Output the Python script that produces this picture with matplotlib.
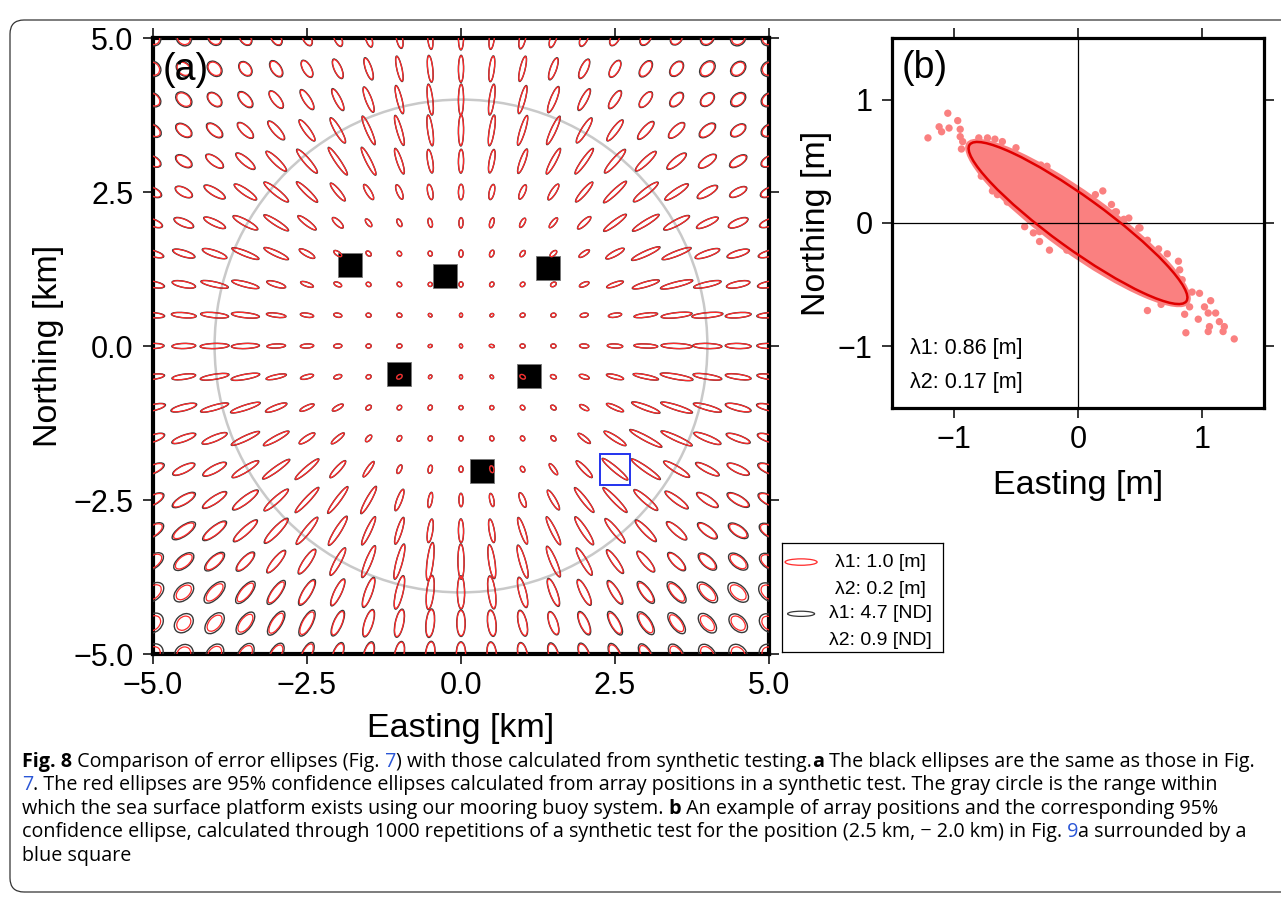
import numpy as np
import matplotlib
matplotlib.use("Agg")
import matplotlib.pyplot as plt
from matplotlib.patches import Ellipse, Rectangle, Circle, FancyBboxPatch
from matplotlib.collections import PatchCollection

plt.rcParams['font.family'] = ['Liberation Sans', 'DejaVu Sans']

W, H = 1281, 900

# ---------------- data: panel (a) ----------------
grid_km = [-5.0, -4.5, -4.0, -3.5, -3.0, -2.5, -2.0, -1.5, -1.0, -0.5, 0.0,
           0.5, 1.0, 1.5, 2.0, 2.5, 3.0, 3.5, 4.0, 4.5, 5.0]
rows_km = grid_km[::-1]   # table rows go from north (5.0) to south (-5.0)

# transponder positions [km]
transponder_x = [-1.80, -0.26, 1.41, -1.01, 1.10, 0.34]
transponder_y = [1.31, 1.14, 1.27, -0.45, -0.49, -2.03]

# red (synthetic test) ellipse axes, 32 units = 1 m
RED_MAJOR = [
    [14, 14, 14, 15, 15, 16, 17, 18, 20, 22, 23, 22, 21, 19, 17, 16, 15, 14, 14, 14, 14],
    [14, 15, 15, 15, 17, 18, 20, 22, 25, 26, 26, 25, 25, 22, 20, 18, 17, 16, 16, 15, 14],
    [15, 16, 16, 18, 20, 22, 23, 26, 28, 30, 30, 30, 28, 27, 23, 20, 18, 16, 15, 15, 15],
    [16, 17, 18, 20, 23, 25, 28, 30, 30, 30, 30, 30, 30, 30, 28, 25, 22, 20, 18, 16, 15],
    [16, 17, 20, 23, 27, 30, 32, 30, 26, 23, 23, 23, 25, 28, 30, 30, 27, 23, 20, 18, 16],
    [17, 18, 23, 26, 30, 28, 22, 17, 15, 15, 15, 15, 15, 18, 25, 30, 30, 27, 22, 18, 17],
    [19, 20, 23, 27, 28, 22, 14, 9, 8, 9, 10, 10, 10, 12, 17, 27, 30, 28, 23, 20, 19],
    [21, 22, 25, 28, 26, 17, 9, 6, 5, 5, 7, 7, 7, 8, 12, 20, 30, 30, 25, 22, 21],
    [22, 23, 27, 27, 19, 13, 8, 5, 5, 4, 5, 5, 5, 6, 10, 17, 27, 32, 27, 23, 22],
    [22, 24, 27, 27, 19, 13, 8, 5, 5, 4, 4, 4, 5, 5, 8, 13, 23, 30, 30, 25, 23],
    [21, 23, 28, 27, 18, 13, 8, 5, 5, 4, 4, 5, 5, 5, 9, 15, 23, 30, 28, 25, 23],
    [22, 23, 28, 28, 20, 13, 8, 5, 6, 4, 4, 4, 6, 6, 10, 17, 25, 32, 28, 25, 23],
    [24, 25, 28, 30, 22, 15, 12, 6, 5, 5, 4, 4, 5, 6, 10, 18, 29, 32, 28, 25, 24],
    [23, 24, 26, 30, 28, 18, 16, 8, 6, 5, 5, 5, 5, 6, 15, 25, 35, 33, 28, 24, 23],
    [22, 23, 25, 30, 32, 30, 22, 18, 9, 8, 6, 7, 6, 13, 22, 32, 34, 29, 25, 23, 22],
    [22, 24, 27, 30, 31, 33, 32, 30, 22, 15, 13, 13, 15, 22, 30, 33, 30, 27, 24, 23, 22],
    [21, 24, 27, 30, 32, 33, 33, 30, 27, 23, 23, 23, 27, 30, 32, 30, 28, 25, 22, 20, 19],
    [20, 20, 22, 23, 27, 28, 30, 33, 35, 37, 34, 33, 33, 32, 30, 27, 25, 22, 20, 19, 18],
    [19, 18, 22, 23, 25, 27, 28, 30, 33, 33, 32, 32, 30, 28, 27, 25, 23, 22, 21, 19, 18],
    [17, 16, 19, 21, 23, 25, 25, 27, 27, 27, 25, 25, 25, 23, 23, 23, 22, 20, 18, 17, 16],
    [16, 15, 17, 19, 20, 22, 22, 23, 24, 24, 23, 23, 22, 21, 21, 20, 19, 18, 17, 16, 15],
]
RED_MINOR = [
    [12, 12, 11, 10, 9, 8, 7, 6, 6, 5, 5, 5, 6, 6, 7, 8, 9, 10, 11, 12, 12],
    [12, 11, 11, 10, 9, 8, 7, 6, 5, 5, 5, 5, 5, 6, 7, 8, 9, 10, 11, 11, 12],
    [11, 11, 10, 9, 8, 7, 6, 6, 5, 5, 5, 5, 5, 6, 6, 7, 8, 9, 10, 10, 11],
    [10, 10, 9, 8, 7, 6, 6, 5, 5, 5, 5, 5, 5, 5, 6, 6, 7, 8, 9, 9, 10],
    [9, 9, 8, 7, 6, 6, 5, 5, 5, 5, 5, 5, 5, 5, 5, 6, 6, 7, 8, 8, 9],
    [8, 8, 7, 6, 6, 5, 5, 5, 5, 5, 5, 5, 5, 5, 5, 5, 6, 6, 7, 7, 8],
    [7, 7, 6, 6, 5, 5, 5, 4, 4, 4, 4, 4, 4, 4, 5, 5, 5, 6, 6, 7, 7],
    [6, 6, 6, 5, 5, 5, 4, 4, 4, 4, 4, 4, 4, 4, 4, 5, 5, 5, 6, 6, 6],
    [6, 6, 5, 5, 5, 4, 4, 4, 4, 4, 4, 4, 4, 4, 4, 4, 5, 5, 5, 6, 6],
    [5, 5, 5, 5, 4, 4, 4, 4, 4, 3, 3, 3, 4, 4, 4, 4, 4, 5, 5, 5, 5],
    [5, 5, 5, 5, 4, 4, 4, 4, 4, 3, 3, 3, 4, 4, 4, 4, 4, 5, 5, 5, 5],
    [5, 5, 5, 5, 4, 4, 4, 4, 4, 3, 3, 3, 4, 4, 4, 4, 4, 5, 5, 5, 5],
    [6, 6, 5, 5, 5, 4, 4, 4, 4, 4, 4, 4, 4, 4, 4, 4, 5, 5, 5, 6, 6],
    [7, 6, 6, 5, 5, 5, 4, 4, 4, 4, 4, 4, 4, 4, 4, 5, 5, 5, 6, 6, 7],
    [8, 7, 7, 6, 5, 5, 5, 4, 4, 4, 4, 4, 4, 4, 5, 5, 5, 6, 6, 7, 8],
    [9, 8, 7, 7, 6, 5, 5, 5, 5, 4, 4, 4, 5, 5, 5, 5, 6, 6, 7, 8, 9],
    [10, 9, 8, 7, 7, 6, 6, 5, 5, 5, 5, 5, 5, 5, 6, 6, 6, 7, 8, 9, 10],
    [11, 10, 9, 8, 7, 7, 6, 6, 6, 6, 6, 6, 6, 6, 6, 6, 7, 8, 9, 10, 11],
    [12, 11, 10, 9, 8, 8, 7, 7, 7, 7, 7, 7, 7, 7, 7, 7, 8, 9, 10, 11, 12],
    [13, 12, 11, 10, 9, 9, 8, 8, 8, 8, 8, 8, 8, 8, 8, 8, 9, 9, 10, 11, 12],
    [13, 13, 12, 11, 10, 9, 9, 9, 9, 9, 9, 9, 9, 9, 9, 9, 9, 10, 11, 12, 13],
]
# black (Fig. 7) ellipse size relative to the red one
BLACK_RATIO = [
    [1.20, 1.20, 1.15, 1.10, 1.10, 1.06, 1.06, 1.06, 1.06, 1.04, 1.04, 1.04, 1.06, 1.06, 1.06, 1.06, 1.10, 1.10, 1.15, 1.20, 1.20],
    [1.20, 1.15, 1.15, 1.10, 1.10, 1.06, 1.06, 1.06, 1.04, 1.04, 1.04, 1.04, 1.04, 1.06, 1.06, 1.06, 1.10, 1.10, 1.15, 1.15, 1.20],
    [1.15, 1.15, 1.10, 1.10, 1.06, 1.06, 1.06, 1.04, 1.04, 1.04, 1.04, 1.04, 1.04, 1.04, 1.06, 1.06, 1.06, 1.10, 1.10, 1.15, 1.15],
    [1.15, 1.10, 1.10, 1.06, 1.06, 1.04, 1.04, 1.04, 1.04, 1.04, 1.04, 1.04, 1.04, 1.04, 1.04, 1.04, 1.06, 1.06, 1.10, 1.10, 1.15],
    [1.10, 1.10, 1.06, 1.06, 1.04, 1.04, 1.04, 1.04, 1.04, 1.04, 1.04, 1.04, 1.04, 1.04, 1.04, 1.04, 1.04, 1.06, 1.06, 1.10, 1.10],
    [1.10, 1.06, 1.06, 1.04, 1.04, 1.04, 1.04, 1.04, 1.04, 1.04, 1.04, 1.04, 1.04, 1.04, 1.04, 1.04, 1.04, 1.04, 1.06, 1.06, 1.10],
    [1.06, 1.06, 1.04, 1.04, 1.04, 1.04, 1.04, 1.04, 1.04, 1.04, 1.04, 1.04, 1.04, 1.04, 1.04, 1.04, 1.04, 1.04, 1.04, 1.06, 1.06],
    [1.06, 1.06, 1.04, 1.04, 1.04, 1.04, 1.04, 1.04, 1.04, 1.04, 1.04, 1.04, 1.04, 1.04, 1.04, 1.04, 1.04, 1.04, 1.04, 1.06, 1.06],
    [1.06, 1.04, 1.04, 1.04, 1.04, 1.04, 1.04, 1.04, 1.04, 1.04, 1.04, 1.04, 1.04, 1.04, 1.04, 1.04, 1.04, 1.04, 1.04, 1.04, 1.06],
    [1.06, 1.04, 1.04, 1.04, 1.04, 1.04, 1.04, 1.04, 1.04, 1.04, 1.04, 1.04, 1.04, 1.04, 1.04, 1.04, 1.04, 1.04, 1.04, 1.04, 1.06],
    [1.06, 1.04, 1.04, 1.04, 1.04, 1.04, 1.04, 1.04, 1.04, 1.04, 1.04, 1.04, 1.04, 1.04, 1.04, 1.04, 1.04, 1.04, 1.04, 1.04, 1.06],
    [1.06, 1.04, 1.04, 1.04, 1.04, 1.04, 1.04, 1.04, 1.04, 1.04, 1.04, 1.04, 1.04, 1.04, 1.04, 1.04, 1.04, 1.04, 1.04, 1.04, 1.06],
    [1.06, 1.06, 1.04, 1.04, 1.04, 1.04, 1.04, 1.04, 1.04, 1.04, 1.04, 1.04, 1.04, 1.04, 1.04, 1.04, 1.04, 1.04, 1.04, 1.06, 1.06],
    [1.06, 1.06, 1.04, 1.04, 1.04, 1.04, 1.04, 1.04, 1.04, 1.04, 1.04, 1.04, 1.04, 1.04, 1.04, 1.04, 1.04, 1.04, 1.04, 1.06, 1.06],
    [1.10, 1.06, 1.06, 1.04, 1.04, 1.04, 1.04, 1.04, 1.04, 1.04, 1.04, 1.04, 1.04, 1.04, 1.04, 1.04, 1.04, 1.04, 1.06, 1.06, 1.10],
    [1.10, 1.10, 1.06, 1.06, 1.04, 1.04, 1.04, 1.04, 1.04, 1.04, 1.04, 1.04, 1.04, 1.04, 1.04, 1.04, 1.04, 1.06, 1.06, 1.10, 1.10],
    [1.15, 1.15, 1.10, 1.06, 1.06, 1.04, 1.04, 1.04, 1.04, 1.04, 1.04, 1.04, 1.04, 1.04, 1.04, 1.04, 1.06, 1.06, 1.10, 1.15, 1.15],
    [1.20, 1.20, 1.15, 1.10, 1.06, 1.06, 1.04, 1.04, 1.04, 1.04, 1.04, 1.04, 1.04, 1.04, 1.04, 1.06, 1.06, 1.10, 1.15, 1.20, 1.20],
    [1.30, 1.30, 1.25, 1.20, 1.15, 1.10, 1.06, 1.06, 1.04, 1.04, 1.04, 1.04, 1.04, 1.06, 1.06, 1.10, 1.15, 1.20, 1.25, 1.30, 1.30],
    [1.35, 1.35, 1.30, 1.25, 1.20, 1.15, 1.10, 1.06, 1.06, 1.06, 1.06, 1.06, 1.06, 1.06, 1.10, 1.15, 1.20, 1.25, 1.30, 1.30, 1.35],
    [1.40, 1.35, 1.30, 1.25, 1.20, 1.15, 1.10, 1.10, 1.06, 1.06, 1.06, 1.06, 1.06, 1.10, 1.10, 1.15, 1.20, 1.25, 1.30, 1.35, 1.40],
]
platform_radius_km = 4.0
highlight_pos = (2.5, -2.0)

# legend reference ellipses
legend_red = (1.0, 0.2)      # [m]
legend_black = (4.7, 0.9)    # [ND]

ticks_a = [-5.0, -2.5, 0.0, 2.5, 5.0]
ticklabels_a = ['\u22125.0', '\u22122.5', '0.0', '2.5', '5.0']

# ---------------- data: panel (b) ----------------
conf_major = 2.16     # full axis lengths [m]
conf_minor = 0.42
conf_angle = -36.0    # degrees
cloud_major = 2.22    # extent of the dense part of the 1000 positions
cloud_minor = 0.50
outlier_x = [-1.05, -0.97, -1.12, -1.04, -1.10, -1.21, -0.95, -0.95, -0.93, -0.94,
             -0.80, -0.73, -0.67, -0.61, -0.50, -0.30, -0.25, 0.14, 0.20, 0.27,
             0.31, -0.78, -0.69, -0.65, -0.57, -0.31, -0.31, 0.30, 0.41, 0.50,
             0.56, 0.65, 0.72, 0.81, 0.82, 0.84, 0.92, 0.98, 1.07, 1.02,
             0.90, 1.05, 1.11, 0.86, 0.56, 0.97, 1.14, 1.06, 1.18, 1.05,
             1.17, 0.87, 1.26, 0.67, -0.43, -0.36, -0.23, -0.09, 0.49, 0.37]
outlier_y = [0.89, 0.83, 0.78, 0.77, 0.74, 0.69, 0.76, 0.70, 0.66, 0.60,
             0.69, 0.69, 0.68, 0.66, 0.61, 0.47, 0.46, 0.23, 0.26, 0.15,
             0.09, 0.38, 0.26, 0.23, 0.17, -0.07, -0.15, 0.09, 0.04, -0.04,
             -0.14, -0.21, -0.25, -0.31, -0.38, -0.46, -0.56, -0.57, -0.63, -0.68,
             -0.68, -0.73, -0.73, -0.74, -0.71, -0.78, -0.80, -0.84, -0.84, -0.88,
             -0.88, -0.89, -0.94, -0.66, -0.03, -0.08, -0.22, -0.22, -0.04, 0.03]
lambda_b = (0.86, 0.17)
ticks_b = [-1, 0, 1]
ticklabels_b = ['\u22121', '0', '1']

# ---------------- styles ----------------
KM_PER_UNIT = 0.52 / 32.0   # drawing scale of the ellipses (1 m -> 0.52 km)
RED = '#ff2a2a'
DARK = '#383838'
SALMON = '#fa8080'
BLUE = '#2233ee'
LINK = '#2a56d6'

fig = plt.figure(figsize=(W / 100, H / 100), dpi=100)
fig.patch.set_facecolor('white')


def px_axes(x0, y0, x1, y1):
    return fig.add_axes([x0 / W, 1 - y1 / H, (x1 - x0) / W, (y1 - y0) / H])


# ---------------- panel (a) ----------------
ax = px_axes(153, 38, 769, 654)
gx, gy = np.meshgrid(np.array(grid_km), np.array(rows_km))
xc, yc = np.mean(transponder_x), np.mean(transponder_y)
angle = np.degrees(np.arctan2(gy - yc, gx - xc))
red_L = np.array(RED_MAJOR) * KM_PER_UNIT
red_W = np.array(RED_MINOR) * KM_PER_UNIT
ratio = np.array(BLACK_RATIO)

ax.add_patch(Circle((0, 0), platform_radius_km, fill=False, ec='#c9c9c9', lw=1.8, zorder=1))
ax.scatter(transponder_x, transponder_y, marker='s', s=17.5 ** 2, c='black',
           edgecolors='#777777', linewidths=0.6, zorder=2)

black_patches = [Ellipse((x, y), L * r, Wd * r, angle=a)
                 for x, y, L, Wd, r, a in zip(gx.ravel(), gy.ravel(), red_L.ravel(),
                                              red_W.ravel(), ratio.ravel(), angle.ravel())]
red_patches = [Ellipse((x, y), L, Wd, angle=a)
               for x, y, L, Wd, a in zip(gx.ravel(), gy.ravel(), red_L.ravel(),
                                         red_W.ravel(), angle.ravel())]
ax.add_collection(PatchCollection(black_patches, facecolor='none', edgecolor=DARK,
                                  linewidth=1.0, zorder=3))
ax.add_collection(PatchCollection(red_patches, facecolor='none', edgecolor=RED,
                                  linewidth=0.9, zorder=4))
ax.add_patch(Rectangle((highlight_pos[0] - 0.25, highlight_pos[1] - 0.25), 0.5, 0.5,
                       fill=False, ec=BLUE, lw=1.4, zorder=5))

ax.set_xlim(-5, 5)
ax.set_ylim(-5, 5)
ax.set_xticks(ticks_a)
ax.set_xticklabels(ticklabels_a)
ax.set_yticks(ticks_a)
ax.set_yticklabels(ticklabels_a)
ax.tick_params(direction='out', length=7, width=1.1, top=True, right=True,
               labelsize=22, color='black')
ax.tick_params(axis='x', pad=5)
ax.tick_params(axis='y', pad=7)
for s in ax.spines.values():
    s.set_linewidth(3.0)
ax.set_xlabel('Easting [km]', fontsize=24.5, labelpad=9)
ax.set_ylabel('Northing [km]', fontsize=24.5, labelpad=7)
ax.text(0.016, 0.948, '(a)', transform=ax.transAxes, fontsize=27, va='center', ha='left', zorder=6)

# legend box
lg = px_axes(782, 543, 943, 652)
lg.set_xlim(0, 161 / 61.6)
lg.set_ylim(0, 109 / 61.6)
lg.set_xticks([])
lg.set_yticks([])
for s in lg.spines.values():
    s.set_linewidth(0.9)
lg.add_patch(Ellipse((0.31, 1.46), legend_red[0] * 32 * KM_PER_UNIT, legend_red[1] * 32 * KM_PER_UNIT,
                     fill=False, ec=RED, lw=0.9))
nd_scale = 27 * KM_PER_UNIT / legend_black[0]
lg.add_patch(Ellipse((0.31, 0.62), legend_black[0] * nd_scale, legend_black[1] * nd_scale,
                     fill=False, ec=DARK, lw=0.9))
leg_lines = ['\u03bb1: %.1f [m]' % legend_red[0], '\u03bb2: %.1f [m]' % legend_red[1],
             '\u03bb1: %.1f [ND]' % legend_black[0], '\u03bb2: %.1f [ND]' % legend_black[1]]
for txt, yy in zip(leg_lines, [0.817, 0.569, 0.349, 0.110]):
    lg.text(0.609, yy, txt, transform=lg.transAxes, fontsize=14, ha='center', va='center')

# ---------------- panel (b) ----------------
bx = px_axes(892, 38, 1264, 408)
bx.add_patch(Ellipse((0, 0), cloud_major, cloud_minor, angle=conf_angle,
                     fc=SALMON, ec='none', zorder=1))
bx.scatter(outlier_x, outlier_y, s=28, c=SALMON, edgecolors='none', zorder=2)
bx.axhline(0, color='black', lw=0.9, zorder=3)
bx.axvline(0, color='black', lw=0.9, zorder=3)
bx.add_patch(Ellipse((0, 0), conf_major, conf_minor, angle=conf_angle,
                     fill=False, ec='#e00000', lw=1.8, zorder=4))
bx.set_xlim(-1.5, 1.5)
bx.set_ylim(-1.5, 1.5)
bx.set_xticks(ticks_b)
bx.set_xticklabels(ticklabels_b)
bx.set_yticks(ticks_b)
bx.set_yticklabels(ticklabels_b)
bx.tick_params(direction='out', length=7, width=1.1, top=True, right=True, labelsize=22)
bx.tick_params(axis='x', pad=5)
bx.tick_params(axis='y', pad=7)
for s in bx.spines.values():
    s.set_linewidth(2.3)
bx.set_xlabel('Easting [m]', fontsize=24.5, labelpad=11)
bx.set_ylabel('Northing [m]', fontsize=24.5, labelpad=4)
bx.text(0.027, 0.92, '(b)', transform=bx.transAxes, fontsize=27, va='center', ha='left')
bx.text(0.048, 0.162, '\u03bb1: %.2f [m]' % lambda_b[0], transform=bx.transAxes,
        fontsize=15.5, va='center', ha='left')
bx.text(0.048, 0.068, '\u03bb2: %.2f [m]' % lambda_b[1], transform=bx.transAxes,
        fontsize=15.5, va='center', ha='left')

# ---------------- frame and caption ----------------
fig.patches.append(FancyBboxPatch((10, 8), 1300, 872, boxstyle='round,pad=0,rounding_size=14',
                                  transform=None, fill=False, ec='#333333', lw=0.9))

caption = [
    [("Fig. 8", 'bold', 'black'), (" Comparison of error ellipses (Fig.", 'normal', 'black'),
     (" 7", 'normal', LINK), (") with those calculated from synthetic testing.", 'normal', 'black'),
     ("a", 'bold', 'black'), (" The black ellipses are the same as those in Fig.", 'normal', 'black')],
    [("7", 'normal', LINK), (". The red ellipses are 95% confidence ellipses calculated from array "
                             "positions in a synthetic test. The gray circle is the range within",
                             'normal', 'black')],
    [("which the sea surface platform exists using our mooring buoy system.", 'normal', 'black'),
     (" b", 'bold', 'black'), (" An example of array positions and the corresponding 95%", 'normal', 'black')],
    [("confidence ellipse, calculated through 1000 repetitions of a synthetic test for the position "
      "(2.5 km, \u2212 2.0 km) in Fig.", 'normal', 'black'), (" 9", 'normal', LINK),
     ("a surrounded by a", 'normal', 'black')],
    [("blue square", 'normal', 'black')],
]
baselines = [767, 790, 814, 837, 861]
renderer = fig.canvas.get_renderer()
for runs, yb in zip(caption, baselines):
    x = 22.0
    for s, wt, col in runs:
        t = fig.text(x / W, 1 - yb / H, s, fontsize=14.2, fontweight=wt, color=col,
                     family=['Open Sans', 'DejaVu Sans'], ha='left', va='baseline')
        x += t.get_window_extent(renderer).width

fig.savefig('out.png', dpi=100)
